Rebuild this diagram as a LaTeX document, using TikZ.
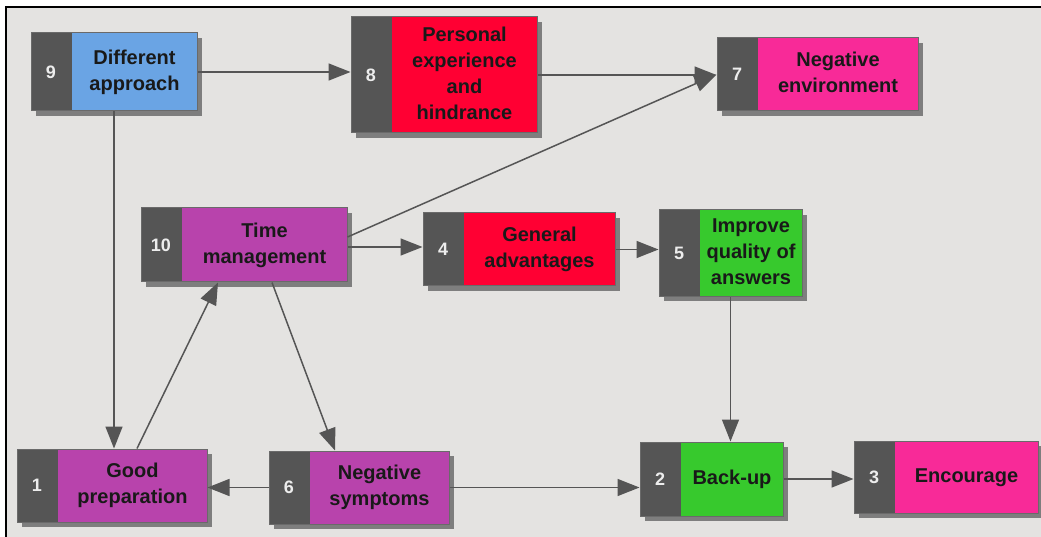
\documentclass[tikz,border=0pt]{standalone}
\usepackage{fontspec}
\setmainfont{Liberation Sans}
\usetikzlibrary{arrows.meta,shadows}

\definecolor{bgpanel}{HTML}{E4E3E1}
\definecolor{stripgray}{HTML}{555555}
\definecolor{shadowgray}{HTML}{7E7E7E}
\definecolor{edgegray}{HTML}{6A6A6A}
\definecolor{linkgray}{HTML}{555555}
\definecolor{numwhite}{HTML}{EDEDED}
\definecolor{cblue}{HTML}{6AA4E4}
\definecolor{cred}{HTML}{FF0033}
\definecolor{cpink}{HTML}{F82A98}
\definecolor{cpurple}{HTML}{B843AC}
\definecolor{cgreen}{HTML}{37C92D}

\tikzset{
  flowbox/.style={
    rectangle, inner sep=0pt, draw=edgegray, line width=1pt,
    text=black!90, font=\fontsize{20}{26}\selectfont\bfseries,
    drop shadow={shadow xshift=5pt, shadow yshift=-5pt, fill=shadowgray, opacity=1},
    path picture={\fill[stripgray] (path picture bounding box.north west)
      rectangle ([xshift=41pt]path picture bounding box.south west);}
  },
  numtext/.style={text=numwhite, font=\fontsize{18}{22}\selectfont\bfseries, inner sep=0pt},
  link/.style={draw=linkgray, line width=1.5pt, -{Triangle[length=22pt,width=17pt]}}
}

% name, centre, width, height, fill, number, label
\newcommand{\numberedbox}[7]{%
  \node[flowbox, fill=#5, minimum width=#3, minimum height=#4] (#1) at #2
    {\hspace*{41pt}\begin{tabular}{@{}c@{}}#7\end{tabular}};
  \node[numtext] (#1num) at ([xshift=20.5pt]#1.west) {#6};
}

\begin{document}
\begin{tikzpicture}[x=1pt,y=-1pt]
  \useasboundingbox (0,0) rectangle (1041,537);
  \fill[white] (0,0) rectangle (1041,537);
  \fill[bgpanel] (6,7) rectangle (1041,537);
  \draw[black, line width=1.5pt] (6,537) -- (6,7) -- (1041,7);

  \numberedbox{n9}{(114,72)}{166pt}{78pt}{cblue}{9}{Different\\approach}
  \numberedbox{n8}{(444,75)}{186pt}{116pt}{cred}{8}{Personal\\experience\\and\\hindrance}
  \numberedbox{n7}{(817.5,74.5)}{201pt}{73pt}{cpink}{7}{Negative\\environment}
  \numberedbox{n10}{(244,245)}{206pt}{74pt}{cpurple}{10}{Time\\management}
  \numberedbox{n4}{(519,249.5)}{192pt}{73pt}{cred}{4}{General\\advantages}
  \numberedbox{n5}{(730.5,253)}{143pt}{86pt}{cgreen}{5}{Improve\\quality of\\answers}
  \numberedbox{n1}{(112,485.5)}{190pt}{73pt}{cpurple}{1}{Good\\preparation}
  \numberedbox{n6}{(359,487.5)}{180pt}{73pt}{cpurple}{6}{Negative\\symptoms}
  \numberedbox{n2}{(711.5,479)}{143pt}{74pt}{cgreen}{2}{Back-up}
  \numberedbox{n3}{(946,477)}{184pt}{72pt}{cpink}{3}{Encourage}

  \draw[link] (n9.east) -- (n9.east -| n8.west);
  \draw[link] (n8.east) -- (n8.east -| n7.west);
  \draw[link] ([yshift=8pt]n10.east) -- (n7.west);
  \draw[link] ([yshift=-2pt]n10.east) -- ([yshift=-2pt]n10.east -| n4.west);
  \draw[link] (n4.east) -- (n4.east -| n5.west);
  \draw[link] (n5.south) -- (n5.south |- n2.north);
  \draw[link] (n2.east) -- (n2.east -| n3.west);
  \draw[link] (n6.east) -- (n6.east -| n2.west);
  \draw[link] (n6.west) -- (n6.west -| n1.east);
  \draw[link] (n9.south) -- (n9.south |- n1.north);
  \draw[link] ([xshift=25pt]n1.north) -- ([xshift=-26pt]n10.south);
  \draw[link] ([xshift=28pt]n10.south) -- ([xshift=-24pt]n6.north);
\end{tikzpicture}
\end{document}
